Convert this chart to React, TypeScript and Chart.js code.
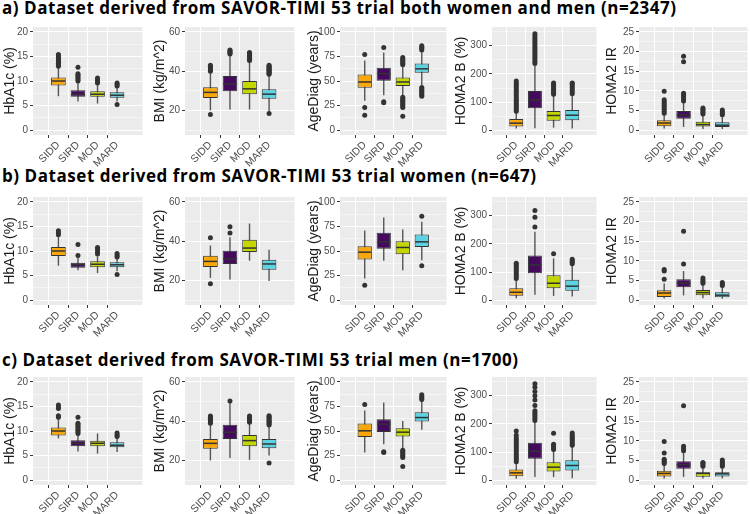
import React, { useEffect, useRef } from "react";
import { Chart, registerables } from "chart.js";

Chart.register(...registerables);

// ---------- categories & colours ----------
const GROUPS = ["SIDD", "SIRD", "MOD", "MARD"];
const GROUP_COLORS = ["#FBA70A", "#430A5D", "#C4D600", "#5CD3E3"];

// ---------- axis tick labels ----------
const hba1cTicks = [0, 5, 10, 15, 20];
const hba1cMinor = [2.5, 7.5, 12.5, 17.5];
const bmiTicks = [20, 40, 60];
const bmiMinor = [10, 30, 50];
const ageTicks = [0, 25, 50, 75, 100];
const ageMinor = [12.5, 37.5, 62.5, 87.5];
const homaBTicks = [0, 100, 200, 300];
const homaBMinor = [50, 150, 250, 350];
const homaIRTicks = [0, 5, 10, 15, 20, 25];
const homaIRMinor = [2.5, 7.5, 12.5, 17.5, 22.5];

// ---------- row titles ----------
const rowTitles = [
  "a) Dataset derived from SAVOR-TIMI 53 trial both women and men (n=2347)",
  "b) Dataset derived from SAVOR-TIMI 53 trial women (n=647)",
  "c) Dataset derived from SAVOR-TIMI 53 trial men (n=1700)",
];

// ---------- box statistics [lowWhisker, q1, median, q3, highWhisker] per group ----------
// Row a: both
const hba1cBothStats = [[6.9, 9.1, 10.0, 10.7, 12.8], [5.8, 6.8, 7.3, 8.1, 9.8], [5.4, 6.8, 7.3, 7.9, 9.3], [5.8, 6.6, 7.1, 7.7, 8.8]];
const hba1cBothOut = [[13.0, 13.3, 13.6, 13.9, 14.2, 14.5, 14.8, 15.1, 15.4], [10.0, 10.3, 10.6, 10.9, 11.2, 11.5, 12.8], [9.6, 9.9, 10.2, 10.6], [5.2, 9.0, 9.3, 9.6]];
const bmiBothStats = [[20, 26.3, 29.2, 31.8, 39.5], [20.5, 29.8, 33.5, 37.5, 48.3], [20.5, 28.2, 31, 35, 45], [19.5, 26, 28.3, 30.8, 38]];
const bmiBothOut = [[18, 40, 40.6, 41.2, 41.8, 42.4, 43], [48.8, 49.3, 49.8, 50.3, 50.8], [45.5, 46, 46.5, 47, 47.5, 48, 48.5, 49, 49.5], [18.5, 38.5, 39, 39.5, 40, 40.5, 41, 41.5, 42, 42.5, 43]];
const ageBothStats = [[30, 43, 49, 56.6, 71], [35.6, 50.2, 57.6, 63.4, 79], [35.6, 45, 49, 53.6, 65], [45.8, 58.3, 62.4, 67.8, 80]];
const ageBothOut = [[15, 23, 77], [27.8, 28.8, 84], [14, 23, 24.5, 26, 27.5, 29, 30.5, 32, 33.5, 66.5, 68, 69.5, 71, 72.5, 74], [34.5, 36, 37.5, 39, 40.5, 42, 43.5, 81.5, 83, 84.5, 86]];
const homaBBothStats = [[7, 14, 26, 41, 65], [8, 79, 108, 140, 230], [10, 34, 53, 69, 122], [7, 36, 54, 72, 125]];
const homaBBothOut = [[68, 75, 82, 89, 96, 103, 110, 117, 124, 131, 138, 145, 152, 160, 167, 175], [237, 244, 251, 258, 265, 272, 279, 286, 293, 300, 307, 314, 321, 328, 335, 342], [128, 135, 142, 149, 156, 163, 168], [130, 137, 144, 151, 158, 165, 168]];
const homaIRBothStats = [[0.4, 1.0, 1.8, 2.5, 4.0], [0.8, 2.9, 3.85, 4.85, 7.0], [0.3, 0.9, 1.4, 2.1, 3.9], [0.25, 0.8, 1.25, 2.0, 3.7]];
const homaIRBothOut = [[4.3, 4.8, 5.3, 5.8, 6.3, 6.8, 7.3, 7.7, 9.9], [7.4, 7.9, 8.4, 8.9, 9.4, 17.4, 18.8], [4.1, 4.5, 4.9, 5.3, 5.6], [3.9, 4.3, 4.7, 5.1]];

// Row b: women
const hba1cWomenStats = [[7, 9.0, 10.0, 10.8, 12.9], [6.1, 6.6, 7.2, 7.6, 8.6], [5.5, 6.7, 7.3, 7.9, 8.9], [5.9, 6.7, 7.2, 7.7, 8.4]];
const hba1cWomenOut = [[13.3, 13.7, 14.1], [9.1, 11.3], [9.4, 9.8, 10.3, 10.7], [5.2, 8.8, 9.1, 9.5]];
const bmiWomenStats = [[21.3, 26.9, 29.7, 32.6, 37.8], [20.5, 28.4, 30.9, 35.1, 42], [30, 34.5, 36.5, 40.7, 49], [19.7, 25.5, 28.4, 30.6, 35.6]];
const bmiWomenOut = [[18.3, 41.8], [44.2, 47.4], [], []];
const ageWomenStats = [[22, 41.4, 48.8, 54.9, 71], [40, 52.2, 59.3, 68.5, 84], [30.5, 46.8, 53.6, 60, 72], [40.7, 54.2, 59.3, 66.8, 79.7]];
const ageWomenOut = [[15], [], [], [35, 85.4]];
const homaBWomenStats = [[8, 16.5, 29, 43.5, 73], [20, 96.5, 126, 159, 243], [16, 43.5, 61, 89, 149], [14, 34, 50.6, 73, 126]];
const homaBWomenOut = [[78, 85, 92, 99, 106, 113, 120, 127, 132], [260, 294, 318], [165], [130, 135, 140, 146]];
const homaIRWomenStats = [[0.4, 0.8, 1.8, 2.5, 4.2], [1.2, 3.25, 4.3, 5.3, 7.4], [0.5, 1.25, 1.9, 2.6, 4.1], [0.35, 0.75, 1.25, 2.0, 3.5]];
const homaIRWomenOut = [[5.3, 7.4, 7.8], [9.2, 17.5], [4.3, 4.7, 5.1, 5.6], [3.7, 4.1, 4.5]];

// Row c: men
const hba1cMenStats = [[8.5, 9.1, 10.0, 10.7, 12.5], [5.8, 6.9, 7.5, 8.1, 9.2], [5.4, 6.9, 7.5, 8.0, 9.5], [5.7, 6.7, 7.1, 7.7, 8.5]];
const hba1cMenOut = [[12.8, 13.1, 14.6, 14.9, 15.3], [9.5, 9.8, 10.1, 10.4, 10.7, 11.0, 11.3, 11.6, 12.8], [], [8.9, 9.2, 9.6]];
const bmiMenStats = [[20, 25.9, 28.7, 30.9, 38.5], [21.2, 30.9, 34.3, 38.2, 49.5], [20.3, 27.2, 30.1, 32.9, 39], [22.5, 26.2, 28.4, 30.9, 37.6]];
const bmiMenOut = [[39, 39.6, 40.2, 40.8, 41.4, 42, 42.7], [50.3], [39.5, 40.1, 40.7, 41.3, 41.9, 42.7], [18.7, 38.1, 38.7, 39.3, 39.9, 40.5, 41.1, 41.7, 42.3, 42.8]];
const ageMenStats = [[28, 44, 50.2, 57.6, 71], [36.6, 49, 57, 62, 79], [32.5, 44.4, 48.8, 52.9, 60.3], [51.2, 59.7, 63.7, 69.2, 81]];
const ageMenOut = [[77], [28, 28.8], [13.9, 23, 24.5, 26, 27.5, 29, 30.5], [82, 83.5, 85, 86.8]];
const homaBMenStats = [[6, 15.3, 27, 38.8, 62], [12, 76.5, 103.5, 133, 206], [12, 31.8, 47, 64.7, 106], [8, 35.3, 53, 71.8, 120]];
const homaBMenOut = [[66, 73, 80, 87, 94, 101, 108, 115, 122, 129, 136, 143, 150, 160, 175], [212, 219, 226, 233, 240, 247, 265, 285, 300, 315, 330, 342], [110, 116, 122, 128, 167], [125, 131, 137, 143, 149, 155, 161, 168]];
const homaIRMenStats = [[0.4, 0.9, 1.7, 2.4, 3.9], [0.8, 2.9, 3.9, 4.8, 7.1], [0.4, 0.85, 1.7, 2.0, 3.3], [0.4, 0.9, 1.6, 2.0, 3.3]];
const homaIRMenOut = [[4.2, 4.6, 5.0, 5.3, 6.9, 9.8], [7.5, 8.0, 8.6, 18.9], [3.5, 3.9, 4.3, 4.5], [3.5, 3.9, 4.3, 4.7, 5.1]];

// ---------- axis definitions per column ----------
const AXES = [
  { title: "HbA1c (%)", min: -1, max: 21, major: hba1cTicks, minor: hba1cMinor },
  { title: "BMI (kg/m^2)", min: 7.5, max: 62.5, major: bmiTicks, minor: bmiMinor },
  { title: "AgeDiag (years)", min: -5, max: 105, major: ageTicks, minor: ageMinor },
  { title: "HOMA2 B (%)", min: -16, max: 366, major: homaBTicks, minor: homaBMinor },
  { title: "HOMA2 IR", min: -1.25, max: 26.25, major: homaIRTicks, minor: homaIRMinor },
];

const PANELS = [
  [[hba1cBothStats, hba1cBothOut], [bmiBothStats, bmiBothOut], [ageBothStats, ageBothOut], [homaBBothStats, homaBBothOut], [homaIRBothStats, homaIRBothOut]],
  [[hba1cWomenStats, hba1cWomenOut], [bmiWomenStats, bmiWomenOut], [ageWomenStats, ageWomenOut], [homaBWomenStats, homaBWomenOut], [homaIRWomenStats, homaIRWomenOut]],
  [[hba1cMenStats, hba1cMenOut], [bmiMenStats, bmiMenOut], [ageMenStats, ageMenOut], [homaBMenStats, homaBMenOut], [homaIRMenStats, homaIRMenOut]],
];

// ---------- layout ----------
const COLS = [
  { canvasLeft: 0, plotLeft: 33, plotRight: 143 },
  { canvasLeft: 150, plotLeft: 185, plotRight: 295 },
  { canvasLeft: 304, plotLeft: 340, plotRight: 447 },
  { canvasLeft: 451, plotLeft: 492, plotRight: 597 },
  { canvasLeft: 602, plotLeft: 639, plotRight: 748 },
];
const ROW_PLOT_TOP = [27, 197, 377];
const TITLE_TOP = [-3, 165, 349];
const PLOT_H = 108;
const PAD_TOP = 8;
const PAD_RIGHT = 2;
const X_AXIS_H = 32;
const FONT = "'Liberation Sans', Arial, Helvetica, sans-serif";

const boxPlotPlugin = {
  id: "boxplot",
  beforeDraw(chart: any) {
    const { ctx, chartArea: a } = chart;
    ctx.save();
    ctx.fillStyle = "#EBEBEB";
    ctx.fillRect(a.left, a.top, a.right - a.left, a.bottom - a.top);
    ctx.restore();
  },
  beforeDatasetsDraw(chart: any, _args: any, opts: any) {
    const { ctx } = chart;
    const xs = chart.scales.x;
    const ys = chart.scales.y;
    ctx.save();
    ctx.strokeStyle = "#555555";
    ctx.lineWidth = 1.4;
    (opts.stats as number[][]).forEach((s, i) => {
      const x = xs.getPixelForValue(i + 1);
      ctx.beginPath();
      ctx.moveTo(x, ys.getPixelForValue(s[0]));
      ctx.lineTo(x, ys.getPixelForValue(s[4]));
      ctx.stroke();
    });
    ctx.restore();
  },
  afterDatasetsDraw(chart: any, _args: any, opts: any) {
    const { ctx } = chart;
    const ys = chart.scales.y;
    const meta = chart.getDatasetMeta(0);
    ctx.save();
    ctx.strokeStyle = "#333333";
    ctx.lineWidth = 1.5;
    (opts.stats as number[][]).forEach((s, i) => {
      const el = meta.data[i];
      if (!el) return;
      const { x, width } = el.getProps(["x", "width"], true);
      const y = ys.getPixelForValue(s[2]);
      ctx.beginPath();
      ctx.moveTo(x - width / 2 + 0.5, y);
      ctx.lineTo(x + width / 2 - 0.5, y);
      ctx.stroke();
    });
    ctx.restore();
  },
};

const groupIndex = (v: number) => {
  const r = Math.round(v);
  return Math.abs(v - r) < 1e-6 && r >= 1 && r <= GROUPS.length ? r - 1 : -1;
};

function Panel({ row, col }: { row: number; col: number }) {
  const ref = useRef<HTMLCanvasElement>(null);
  const c = COLS[col];
  const width = c.plotRight + PAD_RIGHT - c.canvasLeft;
  const height = PAD_TOP + PLOT_H + X_AXIS_H;
  const top = ROW_PLOT_TOP[row] - PAD_TOP;

  useEffect(() => {
    const [stats, outliers] = PANELS[row][col] as [number[][], number[][]];
    const axis = AXES[col];
    const allTicks = [...axis.major, ...axis.minor].sort((a, b) => a - b);
    const isMajor = (v: number) => axis.major.some((m) => Math.abs(m - v) < 1e-9);
    const isMinor = (v: number) => axis.minor.some((m) => Math.abs(m - v) < 1e-9);
    const chart = new Chart(ref.current as HTMLCanvasElement, {
      type: "bar",
      data: {
        datasets: [
          {
            type: "bar",
            data: stats.map((s, i) => ({ x: i + 1, y: [s[1], s[3]] })) as any,
            backgroundColor: GROUP_COLORS,
            borderColor: "#333333",
            borderWidth: 1,
            borderSkipped: false,
            barPercentage: 0.75,
            categoryPercentage: 1,
            grouped: false,
          } as any,
          {
            type: "scatter",
            data: outliers.flatMap((arr, i) => arr.map((v) => ({ x: i + 1, y: v }))) as any,
            pointRadius: 2.5,
            pointBackgroundColor: "#333333",
            pointBorderWidth: 0,
            pointHoverRadius: 2.5,
          } as any,
        ],
      },
      options: {
        animation: false,
        responsive: false,
        events: [],
        layout: { padding: { top: PAD_TOP, right: PAD_RIGHT, bottom: 0, left: 0 } },
        plugins: {
          legend: { display: false },
          tooltip: { enabled: false },
          boxplot: { stats },
        } as any,
        scales: {
          x: {
            type: "linear",
            min: 0.4,
            max: 4.6,
            afterBuildTicks: (s: any) => {
              s.ticks = GROUPS.map((_, i) => ({ value: i + 1 }));
            },
            afterFit: (s: any) => {
              s.height = X_AXIS_H;
            },
            ticks: {
              autoSkip: false,
              minRotation: 45,
              maxRotation: 45,
              padding: 1,
              color: "#4D4D4D",
              font: { family: FONT, size: 10.5 },
              callback: (v: any) => {
                const g = groupIndex(Number(v));
                return g >= 0 ? GROUPS[g] : "";
              },
            },
            grid: {
              color: "#FFFFFF",
              lineWidth: (ctx: any) => (ctx.tick && groupIndex(ctx.tick.value) >= 0 ? 1 : 0),
              tickLength: 3,
              tickColor: (ctx: any) => (ctx.tick && groupIndex(ctx.tick.value) >= 0 ? "#333333" : "rgba(0,0,0,0)"),
              tickWidth: 1,
            },
            border: { display: false },
          },
          y: {
            type: "linear",
            min: axis.min,
            max: axis.max,
            afterBuildTicks: (s: any) => {
              s.ticks = allTicks.map((v) => ({ value: v }));
            },
            afterFit: (s: any) => {
              s.width = c.plotLeft - c.canvasLeft;
            },
            ticks: {
              autoSkip: false,
              padding: 2,
              color: "#4D4D4D",
              font: { family: FONT, size: 10 },
              callback: (v: any) => (isMajor(Number(v)) ? String(v) : ""),
            },
            grid: {
              color: "#FFFFFF",
              lineWidth: (ctx: any) =>
                ctx.tick ? (isMajor(ctx.tick.value) ? 1 : isMinor(ctx.tick.value) ? 0.5 : 0) : 0,
              tickLength: 3,
              tickColor: (ctx: any) => (ctx.tick && isMajor(ctx.tick.value) ? "#333333" : "rgba(0,0,0,0)"),
              tickWidth: 1,
            },
            border: { display: false },
            title: {
              display: true,
              text: axis.title,
              color: "#1A1A1A",
              font: { family: FONT, size: 14 },
              padding: { top: 2, bottom: 0 },
            },
          },
        },
      },
      plugins: [boxPlotPlugin as any],
    });
    return () => chart.destroy();
  }, [row, col]);

  return (
    <canvas
      ref={ref}
      width={width}
      height={height}
      style={{ position: "absolute", left: c.canvasLeft, top, width, height }}
    />
  );
}

export default function App() {
  useEffect(() => {
    document.body.style.margin = "0";
  }, []);
  return (
    <div style={{ position: "relative", width: 750, height: 514, overflow: "hidden", background: "#FFFFFF" }}>
      {rowTitles.map((t, r) => (
        <div
          key={t}
          style={{
            position: "absolute",
            left: 2,
            top: TITLE_TOP[r],
            fontFamily: "'Open Sans', Lato, sans-serif",
            fontWeight: 700,
            fontSize: 17,
            letterSpacing: "0.55px",
            lineHeight: "22px",
            whiteSpace: "nowrap",
            color: "#000000",
          }}
        >
          {t}
        </div>
      ))}
      {[0, 1, 2].map((r) => [0, 1, 2, 3, 4].map((col) => <Panel key={`${r}-${col}`} row={r} col={col} />))}
    </div>
  );
}
